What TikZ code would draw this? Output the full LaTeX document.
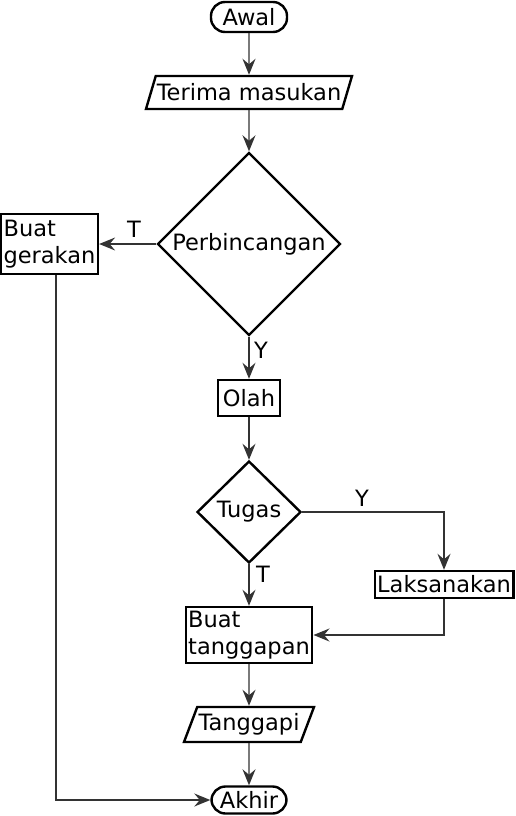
\documentclass[tikz,border=0pt]{standalone}
\usepackage{fontspec}
\setmainfont{DejaVu Sans}
\usetikzlibrary{positioning,shapes.geometric,arrows.meta}

\begin{document}
\begin{tikzpicture}[x=1pt, y=-1pt,
	font=\fontsize{22.5}{27}\selectfont,
	box/.style={draw, line width=2.4pt, rectangle, inner xsep=2.5pt, inner ysep=2pt},
	terminal/.style={draw, line width=2.4pt, rectangle, rounded corners=14pt, inner sep=0pt},
	data/.style={draw, line width=2.4pt, trapezium, trapezium stretches body, inner xsep=0pt, inner ysep=2pt},
	decision/.style={draw, line width=2.4pt, diamond, inner sep=0pt},
	conn/.style={draw=black!80, line width=1.4pt, -{Stealth[length=16pt, width=13pt, inset=5.5pt]}}]
	\useasboundingbox (0, 0) rectangle (516, 816);

	\node [terminal, minimum width=76, minimum height=30] (awal) at (249, 17) {Awal};
	\node [data, minimum width=206, minimum height=33, trapezium left angle=65.5, trapezium right angle=114.5] (masukan) at (249, 92.5) {Terima masukan};
	\node [decision, minimum width=183, minimum height=183] (bincang) at (249, 244) {Perbincangan};
	\node [box, align=left, minimum height=60] (gerakan) at (49.5, 244) {Buat\\gerakan};
	\node [box, minimum width=62, minimum height=36] (olah) at (249, 398) {Olah};
	\node [decision, minimum width=104, minimum height=102] (tugas) at (249, 512) {Tugas};
	\node [box, minimum width=137, minimum height=27, inner ysep=0pt] (laksana) at (444, 584.5) {Laksanakan};
	\node [box, align=left, minimum height=56] (tanggapan) at (249, 635) {Buat\\tanggapan};
	\node [data, minimum width=130, minimum height=35, trapezium left angle=62.8, trapezium right angle=117.2] (tanggapi) at (249, 724.5) {Tanggapi};
	\node [terminal, minimum width=75, minimum height=27] (akhir) at (249, 800) {Akhir};

	% label cabang
	\node (lblT1) at (134, 229) {T};
	\node (lblY1) at (261, 350) {Y};
	\node (lblY2) at (362, 498) {Y};
	\node (lblT2) at (263, 574) {T};

	\path [conn] (awal) -- (masukan);
	\path [conn] (masukan) -- (bincang);
	\path [conn] (bincang) -- (gerakan);
	\path [conn] (bincang) -- (olah);
	\path [conn] (olah) -- (tugas);
	\path [conn] (tugas) -| (laksana);
	\path [conn] (tugas) -- (tanggapan);
	\path [conn] (laksana) |- (tanggapan);
	\path [conn] (tanggapan) -- (tanggapi);
	\path [conn] (tanggapi) -- (akhir);
	\coordinate (belok) at (56, 800);
	\path [conn] (gerakan.south -| belok) -- (belok) -- (akhir);
\end{tikzpicture}
\end{document}
